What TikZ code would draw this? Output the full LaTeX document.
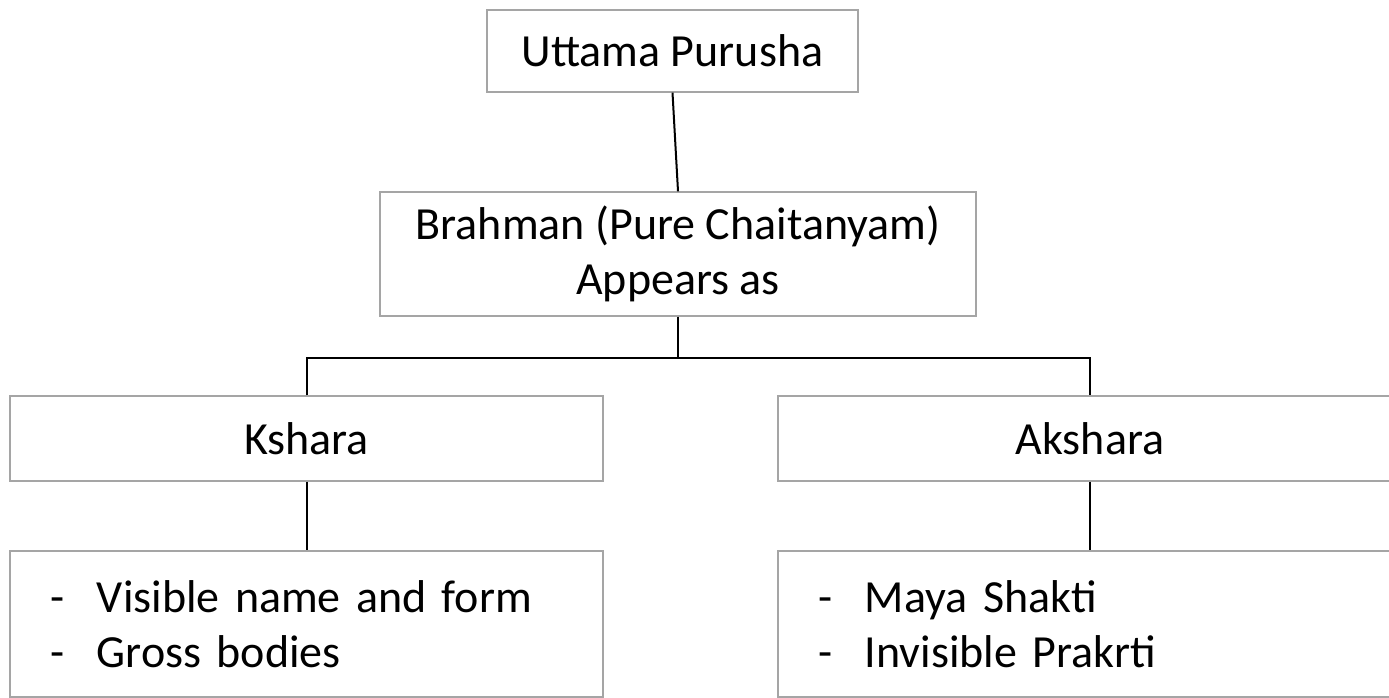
\documentclass[tikz,border=0pt]{standalone}
\usepackage{fontspec}
\setmainfont{Carlito}
\definecolor{boxgray}{RGB}{165,165,165}
\begin{document}
\begin{tikzpicture}[x=1pt,y=-1pt,
  box/.style={draw=boxgray, line width=1.3pt, inner sep=0pt, font=\fontsize{46}{55}\selectfont, align=center},
  listbox/.style={box, align=left},
  conn/.style={draw=black, line width=2pt}]
\clip (0,0) rectangle (1389,698);
\fill[white] (0,0) rectangle (1389,698);
\node[box, minimum width=371pt, minimum height=82pt] (top) at (672.5,51) {Uttama Purusha};
\node[box, minimum width=596pt, minimum height=124pt] (brahman) at (678,254) {Brahman (Pure Chaitanyam)\\Appears as};
\node[box, minimum width=593pt, minimum height=85pt] (kshara) at (306.5,438.5) {Kshara};
\node[box, minimum width=624pt, minimum height=85pt] (akshara) at (1090,438.5) {Akshara};
\node[listbox, minimum width=593pt, minimum height=146pt, text width=513pt] (kl) at (306.5,624) {\makebox[47pt][l]{-}Visible name and form\\\makebox[47pt][l]{-}Gross bodies};
\node[listbox, minimum width=624pt, minimum height=146pt, text width=544pt] (al) at (1090,624) {\makebox[47pt][l]{-}Maya Shakti\\\makebox[47pt][l]{-}Invisible Prakrti};
\coordinate (bus) at (678,358);
\draw[conn] (top.south) -- (brahman.north);
\draw[conn] (brahman.south) -- (bus);
\draw[conn] (kshara.north) |- (bus) -| (akshara.north);
\draw[conn] (kshara.south) -- (kl.north);
\draw[conn] (akshara.south) -- (al.north);
\end{tikzpicture}
\end{document}
